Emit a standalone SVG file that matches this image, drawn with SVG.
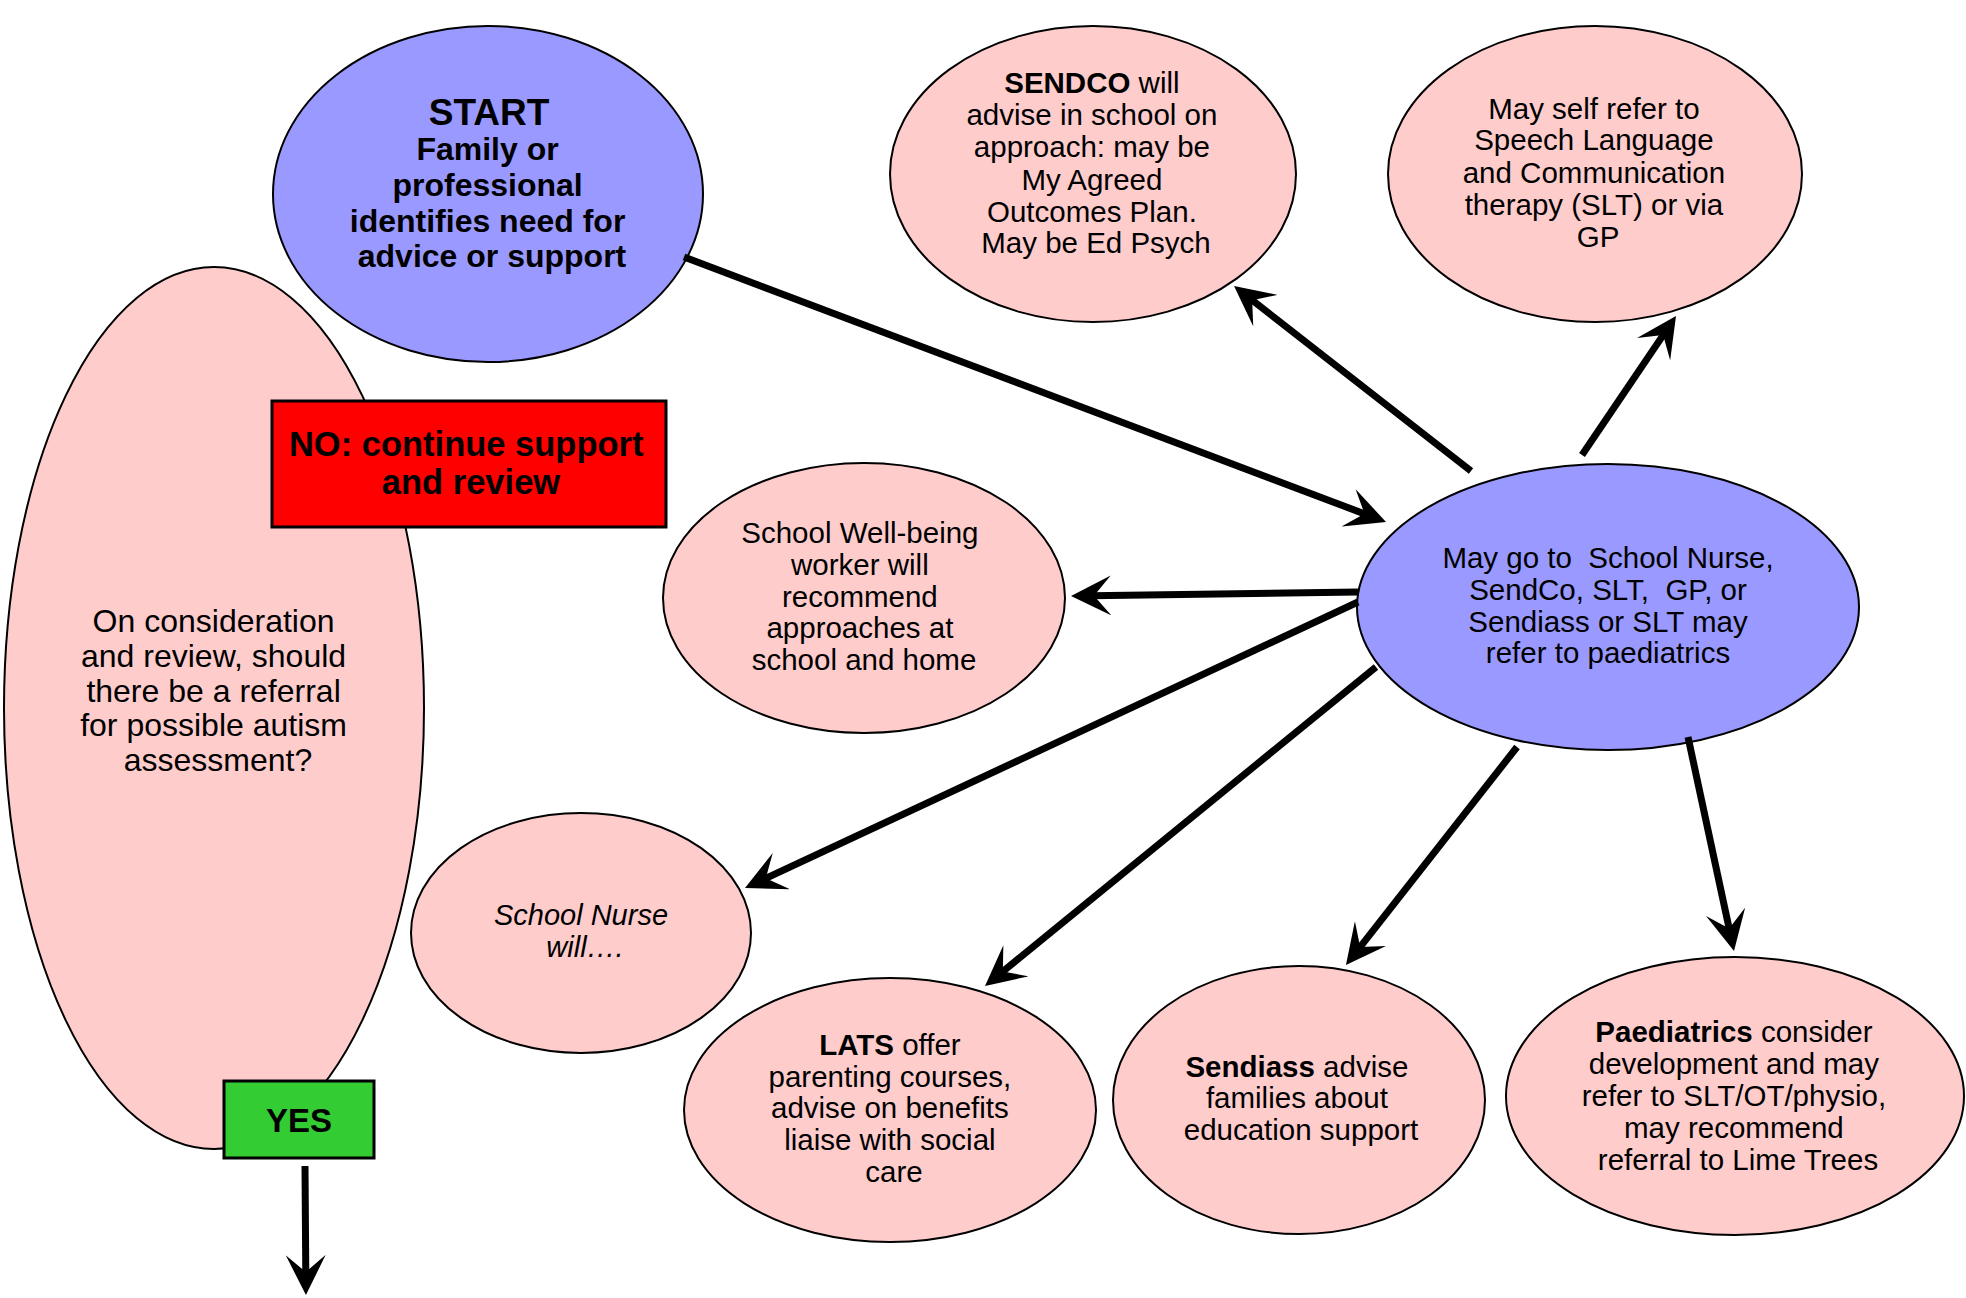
<svg xmlns="http://www.w3.org/2000/svg" width="1966" height="1298" viewBox="0 0 1966 1298">
<style>
  .pink { fill: #FFCCCC; stroke: #000; stroke-width: 2; }
  .blue { fill: #9999FF; stroke: #000; stroke-width: 2; }
  .t { font-family: "Liberation Sans", Arial, sans-serif; font-size: 29.5px; fill: #000; text-anchor: middle; }
  .tb { font-family: "Liberation Sans", Arial, sans-serif; font-weight: bold; fill: #000; text-anchor: middle; }
  .b { font-weight: bold; }
  .conn line { stroke: #000; stroke-width: 7; fill: none; marker-end: url(#arrow); }
</style>
<defs>
  <marker id="arrow" viewBox="0 0 40 40" markerUnits="userSpaceOnUse" markerWidth="40" markerHeight="40" refX="20" refY="20" orient="auto">
    <path d="M40,20 L0,0 L17,20 L0,40 Z" fill="#000"/>
  </marker>
</defs>
<rect width="1966" height="1298" fill="#fff"/>

<g id="node-review">
  <ellipse class="pink" cx="214" cy="708" rx="210" ry="441"/>
  <text class="t" style="font-size:32px">
    <tspan x="218" y="632">On consideration</tspan>
    <tspan x="218" y="667">and review, should</tspan>
    <tspan x="218" y="702">there be a referral</tspan>
    <tspan x="218" y="736">for possible autism</tspan>
    <tspan x="218" y="771">assessment?</tspan>
  </text>
</g>

<g id="node-start">
  <ellipse class="blue" cx="488" cy="194" rx="215" ry="168"/>
  <text class="tb" style="font-size:37px" x="489" y="125">START</text>
  <text class="tb" style="font-size:32px">
    <tspan x="492" y="160">Family or</tspan>
    <tspan x="492" y="196">professional</tspan>
    <tspan x="492" y="232">identifies need for</tspan>
    <tspan x="492" y="267">advice or support</tspan>
  </text>
</g>

<g id="node-sendco">
  <ellipse class="pink" cx="1093" cy="174" rx="203" ry="148"/>
  <text class="t">
    <tspan x="1096" y="93"><tspan class="b">SENDCO</tspan> will</tspan>
    <tspan x="1096" y="125">advise in school on</tspan>
    <tspan x="1096" y="157">approach: may be</tspan>
    <tspan x="1096" y="190">My Agreed</tspan>
    <tspan x="1096" y="222">Outcomes Plan.</tspan>
    <tspan x="1096" y="253">May be Ed Psych</tspan>
  </text>
</g>

<g id="node-slt">
  <ellipse class="pink" cx="1595" cy="174" rx="207" ry="148"/>
  <text class="t">
    <tspan x="1598" y="119">May self refer to</tspan>
    <tspan x="1598" y="150">Speech Language</tspan>
    <tspan x="1598" y="183">and Communication</tspan>
    <tspan x="1598" y="215">therapy (SLT) or via</tspan>
    <tspan x="1598" y="247">GP</tspan>
  </text>
</g>

<g id="node-no">
  <rect x="272" y="401" width="394" height="126" fill="#FF0000" stroke="#000" stroke-width="3"/>
  <text class="tb" style="font-size:34.5px">
    <tspan x="471" y="456">NO: continue support</tspan>
    <tspan x="471" y="494">and review</tspan>
  </text>
</g>

<g id="node-wellbeing">
  <ellipse class="pink" cx="864" cy="598" rx="201" ry="135"/>
  <text class="t">
    <tspan x="864" y="543">School Well-being</tspan>
    <tspan x="864" y="575">worker will</tspan>
    <tspan x="864" y="607">recommend</tspan>
    <tspan x="864" y="638">approaches at</tspan>
    <tspan x="864" y="670">school and home</tspan>
  </text>
</g>

<g id="node-central">
  <ellipse class="blue" cx="1608" cy="607" rx="251" ry="143"/>
  <text class="t" xml:space="preserve"><tspan x="1608" y="568">May go to  School Nurse,</tspan><tspan x="1608" y="600">SendCo, SLT,  GP, or</tspan><tspan x="1608" y="632">Sendiass or SLT may</tspan><tspan x="1608" y="663">refer to paediatrics</tspan></text>
</g>

<g id="node-nurse">
  <ellipse class="pink" cx="581" cy="933" rx="170" ry="120"/>
  <text class="t" style="font-style:italic;font-size:29px">
    <tspan x="585" y="925">School Nurse</tspan>
    <tspan x="585" y="957">will….</tspan>
  </text>
</g>

<g id="node-lats">
  <ellipse class="pink" cx="890" cy="1110" rx="206" ry="132"/>
  <text class="t">
    <tspan x="894" y="1055"><tspan class="b">LATS</tspan> offer</tspan>
    <tspan x="894" y="1087">parenting courses,</tspan>
    <tspan x="894" y="1118">advise on benefits</tspan>
    <tspan x="894" y="1150">liaise with social</tspan>
    <tspan x="894" y="1182">care</tspan>
  </text>
</g>

<g id="node-sendiass">
  <ellipse class="pink" cx="1299" cy="1100" rx="186" ry="134"/>
  <text class="t">
    <tspan x="1301" y="1077"><tspan class="b">Sendiass</tspan> advise</tspan>
    <tspan x="1301" y="1108">families about</tspan>
    <tspan x="1301" y="1140">education support</tspan>
  </text>
</g>

<g id="node-paediatrics">
  <ellipse class="pink" cx="1735" cy="1096" rx="229" ry="139"/>
  <text class="t">
    <tspan x="1738" y="1042"><tspan class="b">Paediatrics</tspan> consider</tspan>
    <tspan x="1738" y="1074">development and may</tspan>
    <tspan x="1738" y="1106">refer to SLT/OT/physio,</tspan>
    <tspan x="1738" y="1138">may recommend</tspan>
    <tspan x="1738" y="1170">referral to Lime Trees</tspan>
  </text>
</g>

<g id="node-yes">
  <rect x="224" y="1081" width="150" height="77" fill="#33CC33" stroke="#000" stroke-width="3"/>
  <text class="tb" style="font-size:33px" x="299" y="1132">YES</text>
</g>

<g id="connectors" class="conn">
  <line x1="684" y1="257" x2="1367.3" y2="514.9"/>
  <line x1="1471" y1="471" x2="1249.8" y2="298.3"/>
  <line x1="1582" y1="455" x2="1664.8" y2="332.6"/>
  <line x1="1358" y1="592" x2="1091" y2="595.7"/>
  <line x1="1358" y1="602" x2="763.1" y2="879.5"/>
  <line x1="1376" y1="667" x2="1000.5" y2="973.4"/>
  <line x1="1517" y1="747" x2="1358.3" y2="949.3"/>
  <line x1="1688" y1="737" x2="1729.8" y2="931.4"/>
  <line x1="305" y1="1166" x2="305.8" y2="1275"/>
</g>
</svg>
